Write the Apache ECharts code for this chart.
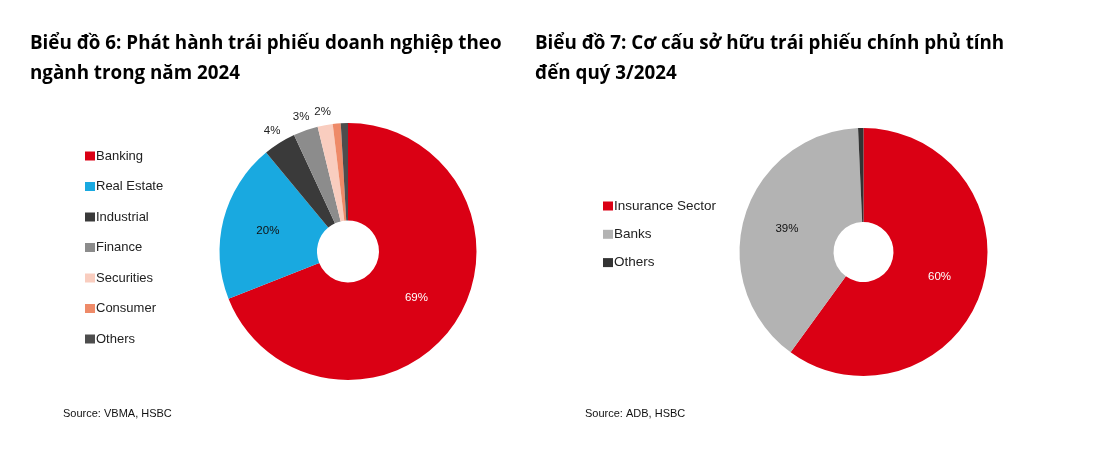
<!DOCTYPE html>
<html>
<head>
<meta charset="utf-8">
<script src="https://cdn.jsdelivr.net/npm/echarts@6/dist/echarts.min.js"></script>
<style>
html,body{margin:0;padding:0;background:#fff;}
#main{width:1114px;height:466px;}
</style>
</head>
<body>
<div id="main"></div>
<script>
// Chart 6: corporate bond issuance by sector, 2024 (%)
const sectorNames = ['Banking', 'Real Estate', 'Industrial', 'Finance', 'Securities', 'Consumer', 'Others'];
const sectorValues = [69, 20, 4.1, 3.1, 1.9, 1.0, 0.9];
const sectorColors = ['#da0014', '#19a9e0', '#3a3a3a', '#8c8c8c', '#f9cdbf', '#ee8a68', '#4d4d4d'];

// Chart 7: government bond ownership structure to Q3/2024 (%)
const holderNames = ['Insurance Sector', 'Banks', 'Others'];
const holderValues = [60, 39.3, 0.7];
const holderColors = ['#da0014', '#b3b3b3', '#333333'];

const title6 = 'Biểu đồ 6: Phát hành trái phiếu doanh nghiệp theo\nngành trong năm 2024';
const title7 = 'Biểu đồ 7: Cơ cấu sở hữu trái phiếu chính phủ tính\nđến quý 3/2024';
const source6 = 'Source: VBMA, HSBC';
const source7 = 'Source: ADB, HSBC';

// inside labels for the big slices
const insideLabelColors6 = ['#ffffff', '#111111'];
const insideLabelColors7 = ['#ffffff', '#111111'];

const chart = echarts.init(document.getElementById('main'), null, {renderer: 'canvas'});

const labelFont = 'Liberation Sans, Arial, sans-serif';
const titleFont = '"Open Sans", "Noto Sans", sans-serif';

function mainData(names, values, colors, labelColors) {
  return names.map((n, i) => ({
    name: n,
    value: values[i],
    itemStyle: {color: colors[i]},
    label: {show: i < labelColors.length, color: labelColors[i] || '#111'}
  }));
}

const data6 = mainData(sectorNames, sectorValues, sectorColors, insideLabelColors6);
const data7 = mainData(holderNames, holderValues, holderColors, insideLabelColors7);

// outer transparent ring carrying labels for the small slices of chart 6
const outer6 = sectorNames.map((n, i) => ({
  name: n,
  value: sectorValues[i],
  itemStyle: {color: 'rgba(0,0,0,0)'},
  label: {show: i >= 2 && Math.round(sectorValues[i]) >= 2}
}));

const pctFmt = p => Math.round(p.value) + '%';

const titleStyle = {fontFamily: titleFont, fontWeight: 'bold', fontSize: 18.8, lineHeight: 30, color: '#000'};
const sourceStyle = {fontFamily: labelFont, fontWeight: 'normal', fontSize: 11, color: '#111'};

const option = {
  animation: false,
  backgroundColor: '#ffffff',
  title: [
    {text: title6, left: 25, top: 24, textStyle: titleStyle},
    {text: title7, left: 530, top: 24, textStyle: titleStyle},
    {text: source6, left: 58, top: 403, textStyle: sourceStyle},
    {text: source7, left: 580, top: 403, textStyle: sourceStyle}
  ],
  legend: [
    {
      orient: 'vertical', left: 80, top: 144,
      icon: 'rect', itemWidth: 10, itemHeight: 9, itemGap: 16.5,
      selectedMode: false,
      textStyle: {fontFamily: labelFont, fontSize: 13, lineHeight: 14, color: '#222', padding: [0, 0, 0, -4]},
      data: sectorNames.map((n, i) => ({name: n, itemStyle: {color: sectorColors[i]}}))
    },
    {
      orient: 'vertical', left: 598, top: 194,
      icon: 'rect', itemWidth: 10, itemHeight: 9, itemGap: 14.3,
      selectedMode: false,
      textStyle: {fontFamily: labelFont, fontSize: 13.5, lineHeight: 14, color: '#222', padding: [0, 0, 0, -4]},
      data: holderNames.map((n, i) => ({name: n, itemStyle: {color: holderColors[i]}}))
    }
  ],
  series: [
    {
      type: 'pie', name: 'sector', center: [348, 251.5], radius: [31, 128.5],
      startAngle: 90, clockwise: true, silent: true, legendHoverLink: false,
      avoidLabelOverlap: false,
      itemStyle: {borderWidth: 0},
      label: {position: 'inside', formatter: pctFmt, fontFamily: labelFont, fontSize: 11.5},
      labelLine: {show: false},
      data: data6
    },
    {
      type: 'pie', name: 'sectorOuter', center: [348, 251.5], radius: [128.5, 150],
      startAngle: 90, clockwise: true, silent: true, legendHoverLink: false,
      avoidLabelOverlap: false,
      itemStyle: {borderWidth: 0},
      label: {position: 'inside', formatter: pctFmt, fontFamily: labelFont, fontSize: 11.5, color: '#222'},
      labelLine: {show: false},
      data: outer6
    },
    {
      type: 'pie', name: 'holder', center: [863.5, 252], radius: [30, 124],
      startAngle: 90, clockwise: true, silent: true, legendHoverLink: false,
      avoidLabelOverlap: false,
      itemStyle: {borderWidth: 0},
      label: {position: 'inside', formatter: pctFmt, fontFamily: labelFont, fontSize: 11.5},
      labelLine: {show: false},
      data: data7
    }
  ]
};

chart.setOption(option);
</script>
</body>
</html>
